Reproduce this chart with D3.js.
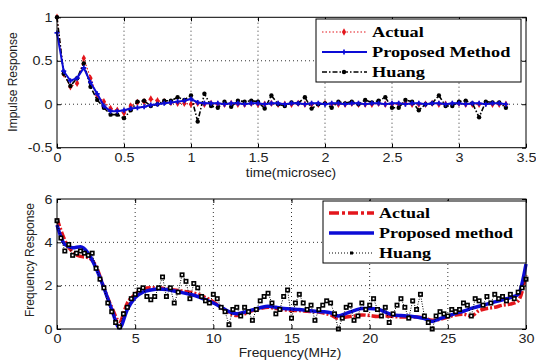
<!DOCTYPE html>
<html>
<head>
<meta charset="utf-8">
<script src="https://cdn.jsdelivr.net/npm/d3@7"></script>
<style>
  body { margin: 0; background: #fff; }
  svg { display: block; }
</style>
</head>
<body>
<svg id="chart" width="536" height="361"></svg>
<script>
// impulse response, sampled every 0.05 microsec
var timeSamples = d3.range(68).map(function (i) { return i * 0.05; });
var impulseActual = [1.0, 0.35, 0.2, 0.24, 0.53, 0.3, 0.1, 0.03, -0.05, -0.07,
    -0.1, -0.02, 0.02, 0.03, 0.06, 0.04, 0.03, 0.02, 0.01, 0.01,
    0.0, 0.01, 0.0, 0.01, 0.0, 0.0, 0.01, 0.0, 0.0, 0.01,
    0.0, 0.0, 0.01, 0.0, 0.0, 0.0, 0.01, 0.0, 0.0, 0.0,
    0.01, 0.0, 0.0, 0.0, 0.01, 0.0, 0.0, 0.0, 0.01, 0.0,
    0.0, 0.0, 0.01, 0.0, 0.0, 0.0, 0.01, 0.0, 0.0, 0.0,
    0.01, 0.0, 0.0, 0.0, 0.01, 0.0, 0.0, 0.0];
var impulseProposed = [0.82, 0.38, 0.27, 0.3, 0.42, 0.25, 0.12, -0.02, -0.08, -0.08,
    -0.07, -0.05, -0.04, -0.03, -0.01, 0.0, 0.01, 0.02, 0.03, 0.04,
    0.06, 0.02, 0.01, 0.01, 0.01, 0.0, 0.01, 0.01, 0.0, 0.01,
    0.01, 0.0, 0.01, 0.01, 0.0, 0.01, 0.01, 0.0, 0.01, 0.01,
    0.0, 0.01, 0.01, 0.0, 0.01, 0.01, 0.0, 0.01, 0.01, 0.0,
    0.01, 0.01, 0.0, 0.01, 0.01, 0.0, 0.01, 0.01, 0.0, 0.01,
    0.01, 0.0, 0.01, 0.01, 0.0, 0.01, 0.01, 0.0];
var impulseHuang = [1.0, 0.35, 0.21, 0.3, 0.47, 0.2, 0.05, -0.04, -0.12, -0.12,
    -0.16, -0.07, 0.03, 0.04, -0.02, 0.0, 0.04, 0.04, 0.08, 0.05,
    0.1, -0.2, 0.12, -0.02, -0.04, 0.03, -0.03, 0.04, 0.03, 0.04,
    0.03, -0.05, 0.1, 0.0, -0.02, 0.02, 0.01, 0.08, -0.05, 0.0,
    0.01, -0.04, 0.03, 0.01, 0.03, 0.0, 0.05, 0.02, 0.04, 0.08,
    -0.04, -0.04, 0.05, 0.03, -0.07, 0.0, 0.01, 0.1, -0.02, -0.02,
    0.03, 0.04, 0.01, -0.15, 0.03, 0.02, 0.02, -0.04];

// frequency response
var freqSmooth = d3.range(61).map(function (i) { return i * 0.5; });
var freqActual = [5.1, 4.1, 3.55, 3.35, 3.3, 2.9, 1.9, 1.0, 0.35, 1.2,
    1.6, 1.85, 1.9, 1.9, 1.85, 1.8, 1.75, 1.7, 1.6, 1.45,
    1.25, 1.0, 0.75, 0.62, 0.7, 0.85, 0.95, 1.0, 0.95, 0.9,
    0.85, 0.85, 0.82, 0.8, 0.75, 0.65, 0.5, 0.55, 0.6, 0.65,
    0.62, 0.58, 0.6, 0.58, 0.55, 0.55, 0.55, 0.5, 0.4, 0.45,
    0.55, 0.65, 0.68, 0.6, 0.85, 0.95, 1.0, 1.1, 1.15, 1.3, 2.5];
var freqProposed = [4.8, 3.9, 3.75, 3.8, 3.5, 2.8, 1.9, 0.9, 0.05, 0.9,
    1.45, 1.7, 1.8, 1.85, 1.82, 1.75, 1.68, 1.6, 1.5, 1.35,
    1.2, 1.0, 0.8, 0.7, 0.78, 0.88, 0.98, 1.05, 1.0, 0.95,
    0.92, 0.9, 0.85, 0.82, 0.8, 0.75, 0.6, 0.72, 0.85, 0.95,
    0.95, 0.92, 0.78, 0.65, 0.62, 0.6, 0.55, 0.48, 0.35, 0.48,
    0.6, 0.72, 0.82, 0.95, 1.05, 1.15, 1.25, 1.35, 1.45, 1.6, 3.0];
var freqHuangAxis = d3.range(121).map(function (i) { return i * 0.25; });
var freqHuang = [5.0, 4.2, 3.6, 3.9, 3.4, 3.5, 3.6, 3.5, 3.4, 3.5,
    2.8, 2.3, 1.9, 1.2, 0.8, 0.3, 0.1, 0.7, 1.0, 1.4,
    1.6, 1.8, 1.9, 1.5, 1.35, 1.5, 1.9, 2.4, 1.5, 1.9,
    1.2, 1.7, 2.5, 2.2, 1.4, 2.1, 1.9, 1.5, 1.3, 1.2,
    1.6, 1.4, 1.0, 0.8, 0.2, 0.9, 1.0, 0.6, 1.0, 0.8,
    0.4, 0.9, 1.3, 1.5, 1.65, 1.2, 0.7, 0.9, 1.5, 1.8,
    0.5, 1.2, 1.6, 1.2, 0.9, 1.1, 0.4, 0.9, 1.1, 1.3,
    1.2, 0.7, 0.0, 0.5, 1.0, 1.1, 0.4, 0.6, 1.2, 0.9,
    1.1, 1.4, 0.9, 0.6, 1.0, 0.3, 0.7, 1.1, 1.4, 1.0,
    0.5, 1.3, 0.9, 1.6, 0.6, 0.3, 0.0, 0.6, 0.8, 0.7,
    0.6, 0.9, 0.8, 0.9, 1.2, 1.1, 0.6, 1.4, 1.3, 1.1,
    1.5, 1.2, 1.6, 1.4, 1.5, 1.3, 1.6, 1.4, 1.7, 1.9, 2.3];

var timeTicks = [0, 0.5, 1, 1.5, 2, 2.5, 3, 3.5];
var impulseTicks = [-0.5, 0, 0.5, 1];
var freqTicks = [0, 5, 10, 15, 20, 25, 30];
var magTicks = [0, 2, 4, 6];

var RED = "#e3161c", BLUE = "#0c0cd6", BLACK = "#000";
var SX = 1.15; // the picture is a bit wide, text is stretched
var svg = d3.select("#chart");

function stretchedText(g, x, y, str, opts) {
    var t = g.append("text")
        .attr("transform", "translate(" + x + "," + y + ") scale(" + (opts.sx || SX) + ",1)")
        .attr("font-family", opts.family || "Arial, 'Liberation Sans', sans-serif")
        .attr("font-size", opts.size || 12)
        .attr("font-weight", opts.weight || "normal")
        .attr("text-anchor", opts.anchor || "start")
        .attr("fill", opts.fill || "#222")
        .text(str);
    return t;
}

function drawFrame(xs, ys, xt, yt) {
    var x0 = xs.range()[0], x1 = xs.range()[1];
    var y0 = ys.range()[0], y1 = ys.range()[1];
    var g = svg.append("g");
    g.append("rect").attr("x", x0).attr("y", y1).attr("width", x1 - x0).attr("height", y0 - y1)
        .attr("fill", "#fff");
    // grid
    g.selectAll(".gx").data(xt.slice(1, -1)).enter().append("line")
        .attr("x1", function (d) { return xs(d); }).attr("x2", function (d) { return xs(d); })
        .attr("y1", y0).attr("y2", y1)
        .attr("stroke", "#333").attr("stroke-width", 1).attr("stroke-dasharray", "1,3");
    g.selectAll(".gy").data(yt.slice(1, -1)).enter().append("line")
        .attr("y1", function (d) { return ys(d); }).attr("y2", function (d) { return ys(d); })
        .attr("x1", x0).attr("x2", x1)
        .attr("stroke", "#333").attr("stroke-width", 1).attr("stroke-dasharray", "1,3");
    return g;
}

function drawAxes(xs, ys, xt, yt, fmtX, fmtY) {
    var x0 = xs.range()[0], x1 = xs.range()[1];
    var y0 = ys.range()[0], y1 = ys.range()[1];
    var bottom = svg.append("g").attr("transform", "translate(0," + y0 + ")")
        .call(d3.axisBottom(xs).tickValues(xt).tickFormat(fmtX).tickSizeInner(-4).tickSizeOuter(0).tickPadding(5));
    var left = svg.append("g").attr("transform", "translate(" + x0 + ",0)")
        .call(d3.axisLeft(ys).tickValues(yt).tickFormat(fmtY).tickSizeInner(-4).tickSizeOuter(0).tickPadding(4.5 / SX));
    svg.append("g").attr("transform", "translate(0," + y1 + ")")
        .call(d3.axisTop(xs).tickValues(xt).tickFormat("").tickSizeInner(-4).tickSizeOuter(0));
    svg.append("g").attr("transform", "translate(" + x1 + ",0)")
        .call(d3.axisRight(ys).tickValues(yt).tickFormat("").tickSizeInner(-4).tickSizeOuter(0));
    svg.selectAll(".domain").remove();
    svg.selectAll(".tick line").attr("stroke", "#000");
    [bottom, left].forEach(function (a) {
        a.selectAll("text")
            .attr("font-family", "Arial, 'Liberation Sans', sans-serif")
            .attr("font-size", 12.5)
            .attr("fill", "#222")
            .attr("transform", "scale(" + SX + ",1)");
    });
    svg.append("rect").attr("x", x0).attr("y", y1).attr("width", x1 - x0).attr("height", y0 - y1)
        .attr("fill", "none").attr("stroke", "#000").attr("stroke-width", 1);
}

function fmtNum(d) { return String(d); }

// ---------------- top: impulse response
var xT = d3.scaleLinear().domain([0, 3.5]).range([57, 526]);
var yT = d3.scaleLinear().domain([-0.5, 1]).range([147.7, 17.3]);
drawFrame(xT, yT, timeTicks, impulseTicks);

var lineT = function (vals) {
    return d3.line()
        .x(function (d, i) { return xT(timeSamples[i]); })
        .y(function (d) { return yT(d); })(vals);
};
var gT = svg.append("g");
gT.append("path").attr("d", lineT(impulseActual)).attr("fill", "none")
    .attr("stroke", RED).attr("stroke-width", 1.2).attr("stroke-dasharray", "1.5,2");
gT.selectAll(".ra").data(impulseActual).enter().append("path")
    .attr("d", d3.symbol(d3.symbolDiamond, 16))
    .attr("transform", function (d, i) { return "translate(" + xT(timeSamples[i]) + "," + yT(d) + ")"; })
    .attr("fill", RED);
gT.append("path").attr("d", lineT(impulseHuang)).attr("fill", "none")
    .attr("stroke", BLACK).attr("stroke-width", 1.6).attr("stroke-dasharray", "5,2,1.5,2");
gT.selectAll(".hu").data(impulseHuang).enter().append("circle")
    .attr("cx", function (d, i) { return xT(timeSamples[i]); })
    .attr("cy", function (d) { return yT(d); })
    .attr("r", 2.2).attr("fill", BLACK);
gT.append("path").attr("d", lineT(impulseProposed)).attr("fill", "none")
    .attr("stroke", BLUE).attr("stroke-width", 2);
gT.selectAll(".pr").data(impulseProposed).enter().append("path")
    .attr("d", d3.symbol(d3.symbolCross, 14))
    .attr("transform", function (d, i) { return "translate(" + xT(timeSamples[i]) + "," + yT(d) + ")"; })
    .attr("fill", BLUE);
drawAxes(xT, yT, timeTicks, impulseTicks, fmtNum, fmtNum);

stretchedText(svg, 291, 177, "time(microsec)", { anchor: "middle" });
svg.append("text")
    .attr("transform", "translate(17,82) rotate(-90)")
    .attr("font-family", "Arial, 'Liberation Sans', sans-serif")
    .attr("font-size", 12).attr("fill", "#222").attr("text-anchor", "middle")
    .text("Impulse Response");

// legend top
var lgT = svg.append("g");
lgT.append("rect").attr("x", 316).attr("y", 19).attr("width", 205).attr("height", 63)
    .attr("fill", "#fff").attr("stroke", "#000").attr("stroke-width", 1);
var legendTop = ["Actual", "Proposed Method", "Huang"];
var rowsT = [32, 52, 72];
lgT.append("line").attr("x1", 322).attr("x2", 367).attr("y1", rowsT[0]).attr("y2", rowsT[0])
    .attr("stroke", RED).attr("stroke-width", 1.2).attr("stroke-dasharray", "1.5,2");
lgT.append("path").attr("d", d3.symbol(d3.symbolDiamond, 16))
    .attr("transform", "translate(344," + rowsT[0] + ")").attr("fill", RED);
lgT.append("line").attr("x1", 322).attr("x2", 367).attr("y1", rowsT[1]).attr("y2", rowsT[1])
    .attr("stroke", BLUE).attr("stroke-width", 2);
lgT.append("path").attr("d", d3.symbol(d3.symbolCross, 14))
    .attr("transform", "translate(344," + rowsT[1] + ")").attr("fill", BLUE);
lgT.append("line").attr("x1", 322).attr("x2", 367).attr("y1", rowsT[2]).attr("y2", rowsT[2])
    .attr("stroke", BLACK).attr("stroke-width", 1.6).attr("stroke-dasharray", "5,2,1.5,2");
lgT.append("circle").attr("cx", 344).attr("cy", rowsT[2]).attr("r", 2.2).attr("fill", BLACK);
legendTop.forEach(function (s, i) {
    stretchedText(lgT, 372, rowsT[i] + 5, s, {
        family: "'Liberation Serif', 'Times New Roman', serif", weight: "bold",
        size: 15, sx: 1.22, fill: "#000"
    });
});

// ---------------- bottom: frequency response
var xB = d3.scaleLinear().domain([0, 30]).range([57, 526]);
var yB = d3.scaleLinear().domain([0, 6]).range([329, 199]);
drawFrame(xB, yB, freqTicks, magTicks);

var lineB = function (xsArr) {
    return d3.line()
        .curve(d3.curveMonotoneX)
        .x(function (d, i) { return xB(xsArr[i]); })
        .y(function (d) { return yB(d); });
};
var gB = svg.append("g");
gB.append("path").attr("d", lineB(freqSmooth)(freqActual)).attr("fill", "none")
    .attr("stroke", RED).attr("stroke-width", 3.5).attr("stroke-dasharray", "8,2,2,2");
gB.append("path").attr("d", lineB(freqSmooth)(freqProposed)).attr("fill", "none")
    .attr("stroke", BLUE).attr("stroke-width", 3.5);
gB.append("path").attr("d", d3.line()
        .x(function (d, i) { return xB(freqHuangAxis[i]); })
        .y(function (d) { return yB(d); })(freqHuang))
    .attr("fill", "none").attr("stroke", BLACK).attr("stroke-width", 1).attr("stroke-dasharray", "1,1.5");
gB.selectAll(".hq").data(freqHuang).enter().append("rect")
    .attr("x", function (d, i) { return xB(freqHuangAxis[i]) - 1.7; })
    .attr("y", function (d) { return yB(d) - 1.7; })
    .attr("width", 3.4).attr("height", 3.4)
    .attr("fill", "#fff").attr("stroke", BLACK).attr("stroke-width", 1.6);
drawAxes(xB, yB, freqTicks, magTicks, fmtNum, fmtNum);

stretchedText(svg, 290, 357, "Frequency(MHz)", { anchor: "middle" });
svg.append("text")
    .attr("transform", "translate(34,260) rotate(-90)")
    .attr("font-family", "Arial, 'Liberation Sans', sans-serif")
    .attr("font-size", 12).attr("fill", "#222").attr("text-anchor", "middle")
    .text("Frequency Response");

// legend bottom
var lgB = svg.append("g");
lgB.append("rect").attr("x", 323).attr("y", 201).attr("width", 203).attr("height", 62)
    .attr("fill", "#fff").attr("stroke", "#000").attr("stroke-width", 1);
var legendBottom = ["Actual", "Proposed method", "Huang"];
var rowsB = [213, 233, 253];
lgB.append("line").attr("x1", 329).attr("x2", 374).attr("y1", rowsB[0]).attr("y2", rowsB[0])
    .attr("stroke", RED).attr("stroke-width", 3.5).attr("stroke-dasharray", "10,3,3,3");
lgB.append("line").attr("x1", 329).attr("x2", 374).attr("y1", rowsB[1]).attr("y2", rowsB[1])
    .attr("stroke", BLUE).attr("stroke-width", 3.5);
lgB.append("line").attr("x1", 329).attr("x2", 374).attr("y1", rowsB[2]).attr("y2", rowsB[2])
    .attr("stroke", BLACK).attr("stroke-width", 1).attr("stroke-dasharray", "1,2");
lgB.append("rect").attr("x", 350).attr("y", rowsB[2] - 1.5).attr("width", 3).attr("height", 3)
    .attr("fill", "#000");
legendBottom.forEach(function (s, i) {
    stretchedText(lgB, 379, rowsB[i] + 5, s, {
        family: "'Liberation Serif', 'Times New Roman', serif", weight: "bold",
        size: 15, sx: 1.2, fill: "#000"
    });
});
</script>
</body>
</html>
